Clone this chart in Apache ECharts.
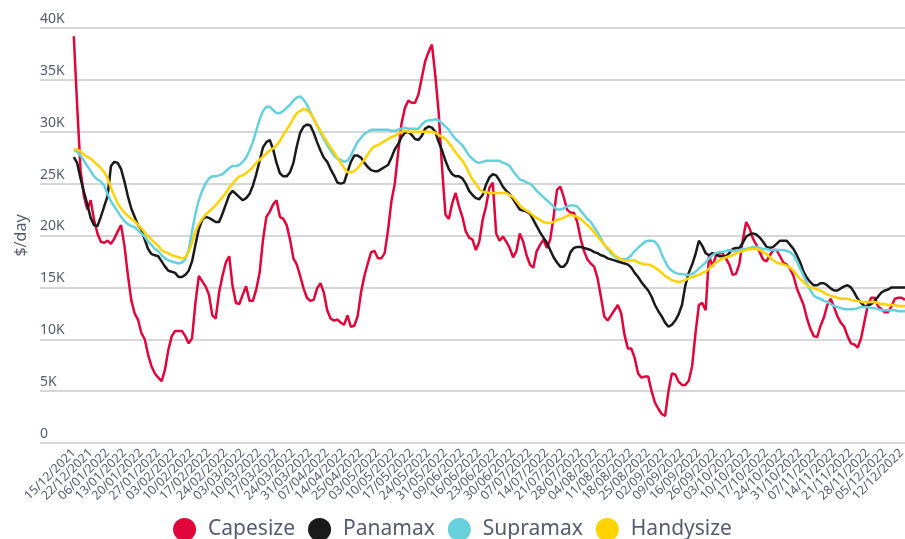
<!DOCTYPE html>
<html>
<head>
<meta charset="utf-8">
<title>Dry bulk earnings</title>
<script src="https://cdn.jsdelivr.net/npm/echarts@6.0.0/dist/echarts.min.js"></script>
<style>
    html, body { margin: 0; padding: 0; background: #fff; }
    #chart { width: 905px; height: 539px; }
</style>
</head>
<body>
<div id="chart"></div>
<script>
/*
 * 干散货船型日租金 ($/day)，每个交易日一个点，横轴每 5 个点标一个日期
 */

// 横轴日期标签（每 5 个交易日一个）
const dateLabels = [
    '15/12/2021', '22/12/2021', '06/01/2022', '13/01/2022', '20/01/2022', '27/01/2022',
    '03/02/2022', '10/02/2022', '17/02/2022', '24/02/2022', '03/03/2022', '10/03/2022',
    '17/03/2022', '24/03/2022', '31/03/2022', '07/04/2022', '14/04/2022', '25/04/2022',
    '03/05/2022', '10/05/2022', '17/05/2022', '24/05/2022', '31/05/2022', '09/06/2022',
    '16/06/2022', '23/06/2022', '30/06/2022', '07/07/2022', '14/07/2022', '21/07/2022',
    '28/07/2022', '04/08/2022', '11/08/2022', '18/08/2022', '25/08/2022', '02/09/2022',
    '09/09/2022', '16/09/2022', '26/09/2022', '03/10/2022', '10/10/2022', '17/10/2022',
    '24/10/2022', '31/10/2022', '07/11/2022', '14/11/2022', '21/11/2022', '28/11/2022',
    '05/12/2022', '12/12/2022'
]

const seriesNames = ['Capesize', 'Panamax', 'Supramax', 'Handysize']
const seriesColors = ['#e0063c', '#1a1a1a', '#66d1dd', '#ffd200']

// 每日数值
const capesize = [
    39200, 32500, 26300, 23800, 22500, 23400, 21500, 20200, 19400, 19300,
    19500, 19200, 19700, 20400, 21000, 19000, 16200, 13800, 12500, 11900,
    10600, 10000, 8500, 7400, 6700, 6300, 5950, 7100, 9000, 10300,
    10800, 10800, 10800, 10300, 9600, 10100, 13500, 16100, 15600, 15100,
    14300, 12300, 12000, 14500, 16100, 17400, 18000, 15100, 13500, 13400,
    14300, 15100, 13700, 13700, 14800, 16400, 19600, 21800, 22300, 23000,
    23400, 21800, 21600, 21000, 19600, 17800, 17200, 16100, 14900, 14000,
    13700, 13800, 14900, 15400, 14500, 12800, 12000, 11800, 11900, 11600,
    11400, 12300, 11200, 11300, 12200, 14500, 16100, 17300, 18400, 18500,
    17800, 17800, 18300, 20500, 23300, 25000, 28000, 30800, 32300, 33000,
    32800, 32800, 33600, 35200, 36800, 37700, 38400, 35400, 31800, 26500,
    22000, 21600, 23100, 24100, 22800, 21800, 20400, 19800, 19600, 18600,
    19400, 21500, 22800, 24600, 25100, 20200, 19500, 19900, 19400, 18800,
    17900, 18500, 20200, 19400, 18100, 17200, 16900, 18500, 19100, 19600,
    18800, 19600, 21800, 24400, 24700, 23700, 22500, 22200, 22200, 21300,
    19700, 18500, 17700, 17300, 17000, 15900, 14100, 12200, 11800, 12300,
    12800, 13300, 12500, 10400, 9100, 9100, 8200, 6700, 6300, 6400,
    6400, 5000, 3900, 3300, 2800, 2600, 5000, 6700, 6600, 5900,
    5600, 5600, 6000, 7400, 10600, 13300, 13500, 12800, 18100, 17000,
    18000, 18300, 18300, 17800, 17200, 16200, 16300, 17300, 19600, 21300,
    20700, 19700, 19100, 18400, 17700, 17500, 18100, 18600, 18600, 18000,
    17400, 17200, 16800, 16100, 14900, 14100, 13300, 12000, 11000, 10300,
    10200, 11300, 12100, 13300, 13900, 13100, 12200, 11600, 11200, 10300,
    9600, 9500, 9200, 10100, 11700, 13300, 14000, 14000, 13200, 12900,
    12600, 12600, 13200, 13900, 14000, 14000, 13800
]

const panamax = [
    27550, 27000, 25500, 24200, 23000, 21700, 21000, 20900, 21800, 22800,
    23800, 26700, 27100, 27000, 26400, 25200, 23800, 22600, 21800, 21000,
    20600, 19600, 18700, 18200, 18100, 18000, 17500, 17000, 16600, 16500,
    16400, 16000, 16000, 16200, 16600, 17500, 19100, 20600, 21500, 21800,
    21700, 21500, 21300, 21300, 22100, 23000, 23900, 24300, 24000, 23700,
    23400, 23600, 24000, 24800, 25900, 27200, 28500, 29000, 29200, 28300,
    27000, 26000, 25700, 25700, 26100, 27000, 28600, 29900, 30500, 30700,
    30600, 29900, 29000, 28200, 27500, 27100, 26400, 25800, 25100, 25000,
    25100, 26100, 27100, 27700, 27700, 27500, 27000, 26600, 26300, 26200,
    26200, 26400, 26600, 26800, 27500, 28300, 28800, 29500, 29900, 30000,
    29700, 29300, 29200, 29600, 30300, 30500, 30400, 30000, 29000, 28200,
    27200, 26400, 25900, 25700, 25700, 25500, 25000, 24300, 23900, 23600,
    23500, 23900, 24900, 25600, 25900, 25800, 25300, 24700, 24300, 24000,
    23500, 23000, 22500, 22400, 22300, 22100, 21500, 20900, 20300, 19800,
    19300, 18600, 17900, 17400, 17000, 17000, 17400, 18400, 18800, 18900,
    18900, 18800, 18700, 18600, 18400, 18300, 18100, 18000, 17800, 17700,
    17600, 17500, 17400, 17300, 17200, 16900, 16400, 16000, 15500, 15100,
    14700, 14100, 13300, 12700, 12200, 11600, 11200, 11400, 11800, 12400,
    13300, 15200, 16400, 17200, 18200, 19500, 19000, 18300, 18100, 18300,
    18200, 18000, 18000, 18000, 18300, 18700, 18800, 18800, 19300, 19900,
    20100, 20200, 20100, 19800, 19400, 18900, 18800, 18900, 19200, 19500,
    19500, 19500, 19100, 18700, 18100, 17400, 16500, 15900, 15500, 15200,
    15200, 15400, 15400, 15200, 14900, 14700, 14700, 14900, 15100, 15200,
    15000, 14500, 13900, 13500, 13200, 13200, 13400, 13700, 14100, 14500,
    14700, 14800, 15000, 15000, 15000, 15000, 15000
]

const supramax = [
    28200, 28100, 27700, 27200, 26700, 26200, 25700, 25400, 25200, 24800,
    24000, 23300, 22800, 22300, 21800, 21400, 21100, 20900, 20800, 20500,
    20200, 19900, 19400, 19100, 18700, 18500, 18100, 17800, 17600, 17500,
    17400, 17300, 17400, 17700, 18600, 20400, 22100, 23400, 24300, 25000,
    25500, 25700, 25700, 25800, 25900, 26200, 26500, 26700, 26700, 26800,
    27100, 27500, 28200, 29000, 30100, 31200, 32000, 32400, 32400, 32100,
    31800, 31800, 32000, 32300, 32600, 33000, 33300, 33400, 33100, 32600,
    31900, 31200, 30600, 29900, 29300, 28700, 28200, 27700, 27400, 27300,
    27100, 27200, 27700, 28400, 29000, 29400, 29800, 30000, 30200, 30200,
    30200, 30200, 30200, 30200, 30100, 30100, 30200, 30300, 30400, 30300,
    30300, 30300, 30300, 30700, 31000, 31100, 31100, 31200, 31100, 30800,
    30500, 30200, 29700, 29300, 29000, 28700, 28200, 27700, 27400, 27100,
    27000, 27100, 27200, 27200, 27200, 27200, 27200, 27000, 26900, 26700,
    26200, 25800, 25400, 25300, 25100, 25000, 24700, 24300, 24000, 23700,
    23400, 23100, 22800, 22500, 22500, 22600, 22800, 22900, 22900, 22800,
    22400, 22000, 21600, 21300, 20800, 20300, 19700, 19100, 18700, 18300,
    18000, 17800, 17700, 17700, 17800, 18100, 18500, 18800, 19100, 19400,
    19500, 19500, 19400, 19000, 18200, 17500, 16900, 16600, 16400, 16300,
    16300, 16200, 16200, 16300, 16500, 16800, 17100, 17400, 17800, 18100,
    18300, 18400, 18400, 18500, 18600, 18500, 18500, 18600, 18700, 18700,
    18800, 18900, 18900, 18800, 18700, 18700, 18600, 18600, 18600, 18600,
    18600, 18500, 18400, 18100, 17500, 16800, 16100, 15400, 14700, 14200,
    14000, 13900, 13700, 13600, 13400, 13200, 13100, 13000, 12900, 12900,
    12900, 12900, 13000, 13100, 13100, 13100, 13000, 13000, 12900, 12800,
    12800, 12800, 12800, 12800, 12700, 12700, 12700
]

const handysize = [
    28300, 28300, 28100, 27800, 27600, 27400, 27100, 26800, 26500, 26100,
    25500, 24600, 23800, 23100, 22600, 22200, 21900, 21600, 21400, 21000,
    20700, 20300, 19900, 19600, 19300, 19000, 18600, 18400, 18300, 18100,
    18000, 17900, 17800, 17900, 18400, 19300, 20400, 21100, 21600, 22000,
    22300, 22600, 22900, 23300, 23700, 24100, 24600, 25000, 25400, 25700,
    25800, 26000, 26300, 26600, 27000, 27300, 27600, 27900, 28200, 28400,
    28700, 29100, 29700, 30200, 30700, 31300, 31800, 32000, 32200, 32100,
    31800, 31300, 30600, 30100, 29500, 29000, 28500, 28000, 27500, 27000,
    26500, 26100, 26100, 26200, 26500, 26900, 27300, 27800, 28300, 28600,
    28700, 28900, 29100, 29300, 29500, 29600, 29800, 30000, 30100, 30000,
    30000, 30000, 30000, 30000, 30000, 30000, 30000, 29900, 29700, 29500,
    29300, 28900, 28500, 28000, 27600, 27200, 26700, 26000, 25400, 25000,
    24500, 24200, 24200, 24100, 24100, 24100, 24100, 24100, 24100, 23900,
    23700, 23300, 22900, 22600, 22400, 22200, 21900, 21700, 21500, 21300,
    21200, 21200, 21300, 21500, 21600, 21700, 21900, 22000, 21900, 21800,
    21600, 21300, 21000, 20700, 20300, 19900, 19500, 19100, 18800, 18500,
    18100, 17900, 17700, 17600, 17600, 17600, 17600, 17400, 17300, 17200,
    17200, 17100, 16900, 16700, 16400, 16100, 15900, 15700, 15600, 15500,
    15600, 15700, 15900, 16000, 16100, 16200, 16400, 16500, 16800, 17100,
    17400, 17600, 17800, 17900, 18000, 18100, 18300, 18400, 18500, 18600,
    18700, 18700, 18700, 18600, 18400, 18200, 17900, 17600, 17400, 17300,
    17200, 17100, 16900, 16600, 16200, 15800, 15500, 15200, 15000, 14900,
    14800, 14700, 14500, 14300, 14200, 14100, 14000, 13900, 13900, 13900,
    13800, 13700, 13700, 13600, 13600, 13600, 13600, 13600, 13500, 13400,
    13400, 13300, 13300, 13300, 13200, 13200, 13200
]

const allData = [capesize, panamax, supramax, handysize]

const textColor = '#565b6f'
const fontFamily = '"Noto Sans", "Open Sans", sans-serif'

var myChart = echarts.init(document.getElementById('chart'))

myChart.setOption({
    animation: false,
    textStyle: { fontFamily: fontFamily },
    grid: {
        left: 40,
        right: 0,
        top: 28,
        bottom: 96,
        // 不要为了放下斜排的日期而把绘图区缩小
        outerBoundsMode: 'none',
        containLabel: false
    },
    legend: {
        data: seriesNames,
        bottom: -7,
        left: 'center',
        icon: 'circle',
        itemWidth: 23,
        itemHeight: 23,
        itemGap: 13,
        textStyle: {
            color: textColor,
            fontSize: 21,
            fontFamily: fontFamily,
            padding: [0, 0, 0, 7]
        }
    },
    xAxis: {
        type: 'value',
        // 前面留 10 个点的空位，让刻度标签从 15/12/2021 开始
        min: -10,
        max: capesize.length - 1,
        interval: 5,
        axisLine: { show: false },
        axisTick: { show: false },
        splitLine: { show: false },
        axisLabel: {
            rotate: 45,
            margin: 8,
            color: textColor,
            fontSize: 12.5,
            showMaxLabel: false,
            formatter: function (v) {
                if (v >= 0 && v % 5 === 0 && dateLabels[v / 5]) {
                    return dateLabels[v / 5]
                }
                return ''
            }
        }
    },
    yAxis: {
        type: 'value',
        min: 0,
        max: 40000,
        interval: 5000,
        name: '$/day',
        nameLocation: 'middle',
        nameGap: 11,
        nameRotate: 90,
        nameTextStyle: {
            color: textColor,
            fontSize: 16
        },
        axisLine: { show: false },
        axisTick: { show: false },
        splitLine: {
            lineStyle: { color: '#d7d7d7', width: 2 }
        },
        axisLabel: {
            inside: true,
            margin: 0,
            color: textColor,
            fontSize: 14,
            verticalAlign: 'bottom',
            padding: [0, 0, 2, 0],
            formatter: function (v) {
                return v === 0 ? '0' : (v / 1000) + 'K'
            }
        }
    },
    series: seriesNames.map(function (name, k) {
        return {
            name: name,
            type: 'line',
            showSymbol: false,
            symbol: 'circle',
            color: seriesColors[k],
            lineStyle: { width: 2.5, color: seriesColors[k] },
            data: allData[k].map(function (v, i) { return [i, v] })
        }
    })
})
</script>
</body>
</html>
